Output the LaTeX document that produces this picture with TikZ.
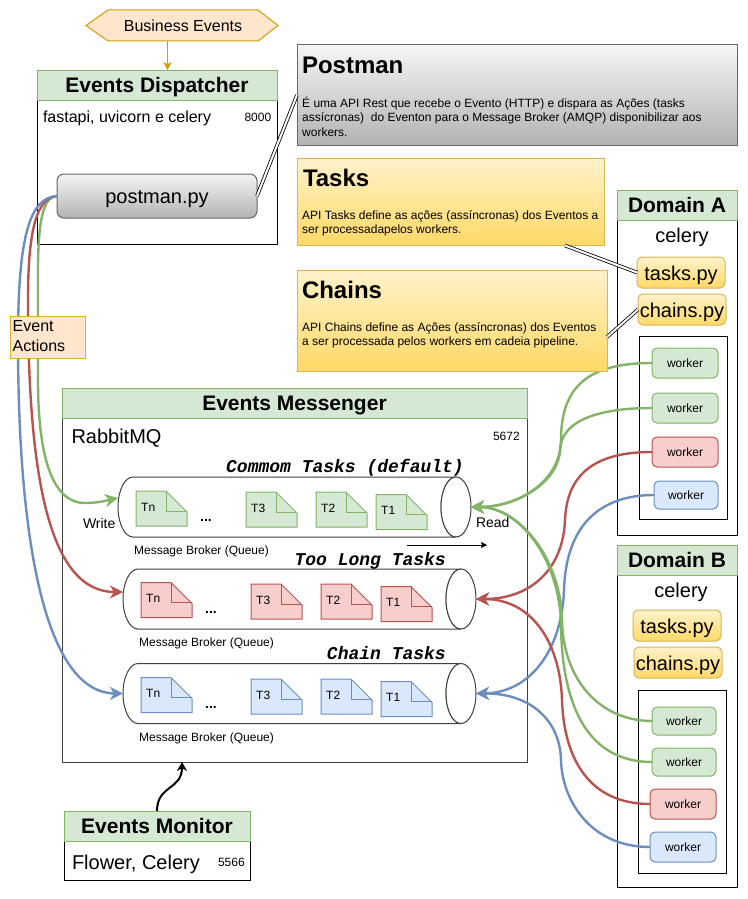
\documentclass[tikz,border=0pt]{standalone}
\usepackage{fontspec}
\setmainfont{Liberation Sans}
\newfontfamily\cour{Liberation Mono}
\usetikzlibrary{arrows.meta,shapes.geometric,calc}
\newcommand{\fsz}[1]{\fontsize{#1}{\the\dimexpr#1pt*6/5\relax}\selectfont}
\definecolor{gn}{HTML}{82B366}\definecolor{gnf}{HTML}{D5E8D4}
\definecolor{rd}{HTML}{B85450}\definecolor{rdf}{HTML}{F8CECC}
\definecolor{bl}{HTML}{6C8EBF}\definecolor{blf}{HTML}{DAE8FC}
\definecolor{org}{HTML}{D79B00}\definecolor{orgf}{HTML}{FFE6CC}
\definecolor{yl}{HTML}{D6B656}\definecolor{yla}{HTML}{FFF2CC}\definecolor{ylb}{HTML}{FFD966}
\definecolor{gr}{HTML}{666666}\definecolor{gra}{HTML}{F5F5F5}\definecolor{grb}{HTML}{B3B3B3}
\tikzset{
  box/.style={anchor=north west,inner sep=0pt,outer sep=0pt,align=center},
  body/.style={box,draw=black,line width=1pt,fill=white},
  head/.style={box,draw=gn,line width=1pt,fill=gnf,font=\fsz{21}\bfseries,text height=15pt,text depth=0pt},
  ylbox/.style={box,draw=yl,line width=1pt,top color=yla,bottom color=ylb},
  pyfile/.style={ylbox,rounded corners=5pt,font=\fsz{20},text height=15pt,text depth=0pt},
  grbox/.style={box,draw=gr,line width=1pt,top color=gra,bottom color=grb},
  wk/.style={box,rounded corners=5pt,line width=1pt,font=\fsz{12}},
  wkg/.style={wk,draw=gn,fill=gnf},
  wkr/.style={wk,draw=rd,fill=rdf},
  wkb/.style={wk,draw=bl,fill=blf},
  lbl/.style={anchor=base west,inner sep=0pt,outer sep=0pt},
  para/.style={anchor=north west,inner sep=0pt,align=left,font=\fsz{12}},
  qcaption/.style={anchor=base,inner sep=0pt,font=\fsz{12}},
  qlabel/.style={anchor=base east,inner sep=0pt,font=\fsz{18}\cour\bfseries\itshape},
  dbl/.style={double=white,double distance=2pt,line width=0.8pt,draw=black},
  flow/.style={line width=2.4pt,-{Stealth[length=13pt,width=13pt,inset=4pt]}},
  qbody/.style={anchor=north west,inner sep=0pt,outer sep=0pt},
  cyl/.style={draw=black!75,line width=1pt},
}
% x, y, colour, fill, label
\newcommand{\taskdoc}[5]{%
  \filldraw[draw=#3,fill=#4,line width=1pt] (#1,#2) -- ++(30,0) -- ++(21,21) -- ++(0,14) -- ++(-51,0) -- cycle;
  \draw[draw=#3,line width=1pt] (#1+30,#2) -- ++(0,20) -- ++(21,0);
  \node[lbl,font=\fsz{12}] at (#1+5.2,#2+20) {#5};}
% name, x, y
\newcommand{\queue}[3]{%
  \node[qbody,minimum width=353pt,minimum height=60pt] (#1) at (#2,#3) {};
  \draw[cyl,fill=white] (#2+15,#3) -- (#2+338,#3) arc[start angle=90,end angle=270,x radius=15pt,y radius=30pt] -- (#2+15,#3+60)
     arc[start angle=270,end angle=90,x radius=15pt,y radius=30pt] -- cycle;
  \draw[cyl,fill=white] (#2+338,#3+30) ellipse[x radius=15pt,y radius=30pt];}
\begin{document}
\begin{tikzpicture}[x=1pt,y=-1pt]
\useasboundingbox (0,0) rectangle (747,899);
\fill[white] (0,0) rectangle (747,899);

% Business events
\filldraw[draw=org,fill=orgf,line width=1pt] (108,10) -- (258,10) -- (278,25.5) -- (258,41) -- (108,41) -- (86,25.5) -- cycle;
\node[inner sep=0pt,minimum width=150pt,minimum height=31pt,font=\fsz{16}] (be) at (183,25.5) {Business Events};
\draw[org,line width=1.2pt,-{Stealth[length=8pt,width=8pt,inset=2pt]}] ($(be.south)+(-15.5,0)$) -- ++(0,29);

% Events Dispatcher
\node[body,minimum width=240pt,minimum height=144pt] (disp) at (37,100) {};
\node[head,minimum width=240pt,minimum height=30pt] (disph) at (37,70) {Events Dispatcher};
\node[lbl,font=\fsz{16}] (dispt) at (43,122) {fastapi, uvicorn e celery};
\node[lbl,font=\fsz{12}] (dispp) at (244.5,121) {8000};
\node[grbox,rounded corners=7pt,minimum width=200pt,minimum height=44pt,font=\fsz{20},text height=14pt,text depth=0pt] (post) at (57,174) {postman.py};

% Postman box
\node[grbox,minimum width=440pt,minimum height=100pt] (postbox) at (297,45) {};
\node[lbl,font=\fsz{24}\bfseries] at (302,74) {Postman};
\node[para] at (302,96.7) {É uma API Rest que recebe o Evento (HTTP) e dispara as Ações (tasks\\assícronas)\ \ do Eventon para o Message Broker (AMQP) disponibilizar aos\\workers.};
\draw[dbl] (post.east) -- (postbox.west);

% Tasks box
\node[ylbox,minimum width=307pt,minimum height=87pt] (tasksbox) at (297,158) {};
\node[lbl,font=\fsz{24}\bfseries] at (303,186) {Tasks};
\node[para] at (302,210) {API Tasks define as ações (assíncronas) dos Eventos a\\ser processadapelos workers.};

% Events Messenger
\node[body,draw=black!75,minimum width=465pt,minimum height=344pt] (msg) at (62,418) {};
\node[head,minimum width=465pt,minimum height=30pt] (msgh) at (62,388) {Events Messenger};
\node[lbl,font=\fsz{20}] at (71.5,443) {RabbitMQ};
\node[lbl,font=\fsz{12}] at (493,440) {5672};

% Queues
\queue{q1}{118}{477}
\queue{q2}{123}{569}
\queue{q3}{123}{663.5}
\node[qlabel] at (464,472) {Commom Tasks (default)};
\node[qlabel] at (446,565) {Too Long Tasks};
\node[qlabel] at (446,659) {Chain Tasks};

\taskdoc{136}{491}{gn}{gnf}{Tn}
\taskdoc{246}{492}{gn}{gnf}{T3}
\taskdoc{316}{492}{gn}{gnf}{T2}
\taskdoc{376}{494.5}{gn}{gnf}{T1}
\taskdoc{141}{582.5}{rd}{rdf}{Tn}
\taskdoc{251}{584}{rd}{rdf}{T3}
\taskdoc{321}{584}{rd}{rdf}{T2}
\taskdoc{381}{586.5}{rd}{rdf}{T1}
\taskdoc{141}{677.5}{bl}{blf}{Tn}
\taskdoc{251}{679}{bl}{blf}{T3}
\taskdoc{321}{679}{bl}{blf}{T2}
\taskdoc{381}{681.5}{bl}{blf}{T1}
\node[anchor=base,inner sep=0pt,font=\fsz{14}\bfseries] at (206,521) {...};
\node[anchor=base,inner sep=0pt,font=\fsz{14}\bfseries] at (211,613) {...};
\node[anchor=base,inner sep=0pt,font=\fsz{14}\bfseries] at (211,708) {...};
\node[qcaption] at (201.5,554) {Message Broker (Queue)};
\node[qcaption] at (206.5,646) {Message Broker (Queue)};
\node[qcaption] at (206.5,741) {Message Broker (Queue)};
\node[lbl,font=\fsz{14}] at (83,528) {Write};
\node[lbl,font=\fsz{14}] at (476,527) {Read};
\coordinate (rda) at (407,545);
\coordinate (rdb) at (487,545);
\draw[black,line width=0.8pt,-{Stealth[length=6pt,width=6pt,inset=1pt]}] (rda) -- (rdb);

% Events Monitor
\node[body,minimum width=186pt,minimum height=39pt] (mon) at (64,841) {};
\node[head,minimum width=186pt,minimum height=30pt] (monh) at (64,811) {Events Monitor};
\node[lbl,font=\fsz{20}] at (72,869) {Flower, Celery};
\node[lbl,font=\fsz{12}] at (218,866) {5566};
\coordinate (msgin) at (182,762);
\draw[black,line width=2pt,-{Stealth[length=9pt,width=10pt,inset=3pt]}] (monh.north) .. controls (157,785) and (182,790) .. (msgin);

% Domain A
\node[body,minimum width=120pt,minimum height=315pt] (doma) at (617,220) {};
\node[head,minimum width=120pt,minimum height=30pt] (domah) at (617,190) {Domain A};
\node[inner sep=0pt,font=\fsz{20}] at (682,237) {celery};
\node[pyfile,minimum width=88pt,minimum height=31pt] (ta) at (637,257) {tasks.py};
\node[pyfile,minimum width=88pt,minimum height=31pt] (ca) at (638,294) {chains.py};
\node[box,draw=black,line width=1pt,fill=white,minimum width=88pt,minimum height=183pt] (cta) at (639,336) {};
\node[wkg,minimum width=66pt,minimum height=30pt] (wa1) at (652,348) {worker};
\node[wkg,minimum width=66pt,minimum height=30pt] (wa2) at (652,393) {worker};
\node[wkr,minimum width=66pt,minimum height=30pt] (wa3) at (652,437) {worker};
\node[wkb,minimum width=64pt,minimum height=28pt] (wa4) at (654,481) {worker};

% Domain B
\node[body,minimum width=120pt,minimum height=312pt] (domb) at (617,575) {};
\node[head,minimum width=120pt,minimum height=30pt] (dombh) at (617,545) {Domain B};
\node[inner sep=0pt,font=\fsz{20}] at (681,592) {celery};
\node[pyfile,minimum width=88pt,minimum height=31pt] (tb) at (633,610) {tasks.py};
\node[pyfile,minimum width=88pt,minimum height=31pt] (cb) at (634,647) {chains.py};
\node[box,draw=black,line width=1pt,fill=white,minimum width=88pt,minimum height=183pt] (ctb) at (638,690) {};
\node[wkg,minimum width=64pt,minimum height=28pt] (wb1) at (652,707) {worker};
\node[wkg,minimum width=64pt,minimum height=28pt] (wb2) at (652,748) {worker};
\node[wkr,minimum width=66pt,minimum height=30pt] (wb3) at (650,789) {worker};
\node[wkb,minimum width=66pt,minimum height=30pt] (wb4) at (650,832) {worker};

% Write connectors
\draw[flow,gn] (post.west) .. controls (45,196) and (38,215) .. (38,270) -- (38,380) .. controls (38,450) and (50,503) .. (85,503) .. controls (100,503) and (108,500) .. ($(q1.west)+(0,-9)$);
\draw[flow,rd] (post.west) .. controls (38,198) and (28,225) .. (28,300) .. controls (28,480) and (50,592) .. ($(q2.west)+(0,-7)$);
\draw[flow,bl] (post.west) .. controls (33,198) and (18,225) .. (18,340) .. controls (18,560) and (50,693) .. (q3.west);

% Read connectors
\draw[flow,gn] (wa1.west) .. controls (590,363) and (561,385) .. (561,440) .. controls (561,480) and (520,507) .. (q1.east);
\draw[flow,gn] (wa2.west) .. controls (600,408) and (561,420) .. (560,450) .. controls (559,480) and (520,507) .. (q1.east);
\draw[flow,rd] (wa3.west) .. controls (600,452) and (567,470) .. (565,520) .. controls (563,570) and (530,599) .. (q2.east);
\draw[flow,bl] (wa4.west) .. controls (600,495) and (566,525) .. (564,590) .. controls (562,650) and (530,693) .. (q3.east);
\draw[flow,gn] (wb1.west) .. controls (600,721) and (563,680) .. (562,620) .. controls (561,560) and (520,507) .. (q1.east);
\draw[flow,gn] (wb2.west) .. controls (590,762) and (562,710) .. (561,625) .. controls (560,560) and (520,507) .. (q1.east);
\draw[flow,rd] (wb3.west) .. controls (590,804) and (564,760) .. (562,700) .. controls (560,640) and (530,599) .. (q2.east);
\draw[flow,bl] (wb4.west) .. controls (590,847) and (562,800) .. (561,760) .. controls (560,720) and (530,693) .. (q3.east);

% Chains box over the connectors
\node[ylbox,minimum width=310pt,minimum height=101pt] (chainsbox) at (297,270) {};
\node[lbl,font=\fsz{24}\bfseries] at (302,298) {Chains};
\node[para] at (302,322) {API Chains define as Ações (assíncronas) dos Eventos\\a ser processada pelos workers em cadeia pipeline.};

% Event Actions
\node[box,draw=org!80,fill=orgf,line width=1pt,minimum width=75pt,minimum height=42pt] (ev) at (10,316) {};
\node[para,font=\fontsize{16}{20}\selectfont] at (12.5,320) {Event\\Actions};

% Double links
\draw[dbl] ($(tasksbox.south east)+(-39,0.5)$) -- (ta.west);
\draw[dbl] ($(chainsbox.east)+(0,16.5)$) -- (ca.west);
\end{tikzpicture}
\end{document}
